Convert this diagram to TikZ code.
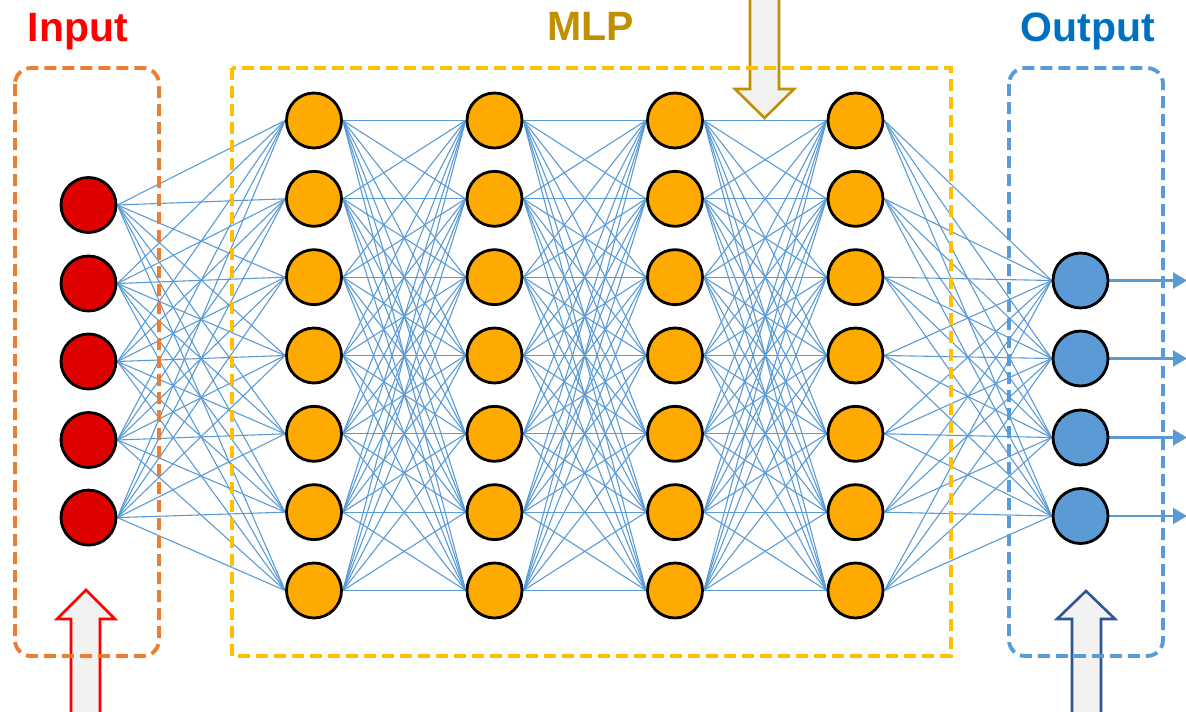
\documentclass[tikz,border=0pt]{standalone}
\usepackage{fontspec}
\setmainfont{Liberation Sans}
\usetikzlibrary{arrows.meta,backgrounds}
\definecolor{linkblue}{HTML}{5B9BD5}
\definecolor{inred}{HTML}{DF0000}
\definecolor{hidorange}{HTML}{FFAA00}
\definecolor{outblue}{HTML}{5B9BD5}
\definecolor{boxorange}{HTML}{ED7D31}
\definecolor{boxgold}{HTML}{FFC000}
\definecolor{labred}{HTML}{FF0000}
\definecolor{labgold}{HTML}{BF9000}
\definecolor{labblue}{HTML}{0070C0}
\definecolor{arrowfill}{HTML}{F2F2F2}
\definecolor{arrowdark}{HTML}{2F5597}
\tikzset{
  neuron/.style={circle, draw=black, line width=2.8pt, minimum size=55pt, inner sep=0pt},
  inneuron/.style={neuron, fill=inred},
  hidneuron/.style={neuron, fill=hidorange},
  outneuron/.style={neuron, fill=outblue},
  link/.style={draw=linkblue, line width=1.1pt},
  outlink/.style={draw=linkblue, line width=2.4pt, -{Triangle[length=14pt 0 0,width=16pt 0 0]}},
  groupbox/.style={dash pattern=on 12pt off 6pt, line width=3.8pt},
  blockarrow/.style={fill=arrowfill, line width=2.6pt, line join=miter},
  title/.style={font=\fontsize{41}{49}\selectfont\bfseries, anchor=base, inner sep=0pt}
}
\begin{document}
\begin{tikzpicture}[x=1pt,y=-1pt]
\useasboundingbox (0,0) rectangle (1186,712);
% neurons
\foreach \i/\y in {1/205,2/283.5,3/361.5,4/440,5/517.6}
  \node[inneuron] (a\i) at (88.5,\y) {};
\foreach \L/\x in {b/314,c/494.5,d/675,e/855.5}
  \foreach \i in {1,...,7}
    \node[hidneuron] (\L\i) at (\x,{120.5+78.33*(\i-1)}) {};
\foreach \i/\y in {1/280.5,2/358.5,3/437.5,4/516}
  \node[outneuron] (o\i) at (1080.5,\y) {};
\foreach \i/\y in {1/280.5,2/358.5,3/437.5,4/516}
  \coordinate (t\i) at (1187,\y);
\begin{scope}[on background layer]
% block arrows (beneath boxes)
\draw[blockarrow, draw=labred] (71,714) -- (71,619) -- (57,619) -- (86,590) -- (115,619) -- (100,619) -- (100,714) -- cycle;
\draw[blockarrow, draw=arrowdark] (1072,714) -- (1072,619) -- (1057,619) -- (1086,591) -- (1115,619) -- (1101,619) -- (1101,714) -- cycle;
\draw[blockarrow, draw=labgold] (750,-4) -- (750,89) -- (735,89) -- (764.5,118) -- (794,89) -- (779,89) -- (779,-4) -- cycle;
% connections
\foreach \i in {1,...,5}
  \foreach \j in {1,...,7}
    \draw[link] (a\i.east) -- (b\j.west);
\foreach \i in {1,...,7}
  \foreach \j in {1,...,7}
    {\draw[link] (b\i.east) -- (c\j.west);
     \draw[link] (c\i.east) -- (d\j.west);
     \draw[link] (d\i.east) -- (e\j.west);}
\foreach \i in {1,...,7}
  \foreach \j in {1,...,4}
    \draw[link] (e\i.east) -- (o\j.west);
% output arrows
\foreach \i in {1,...,4}
  \draw[outlink] (o\i.east) -- (t\i);
% group boxes
\draw[groupbox, draw=boxorange, rounded corners=16pt] (15,68) rectangle (159,656);
\draw[groupbox, draw=boxgold] (232,68) rectangle (951,656);
\draw[groupbox, draw=outblue, rounded corners=16pt] (1009,68) rectangle (1163,656);
\end{scope}
% titles
\node[title, text=labred] (tin) at (78,41) {Input};
\node[title, text=labgold] (tmlp) at (591,40) {MLP};
\node[title, text=labblue] (tout) at (1088,41) {Output};
\end{tikzpicture}
\end{document}
